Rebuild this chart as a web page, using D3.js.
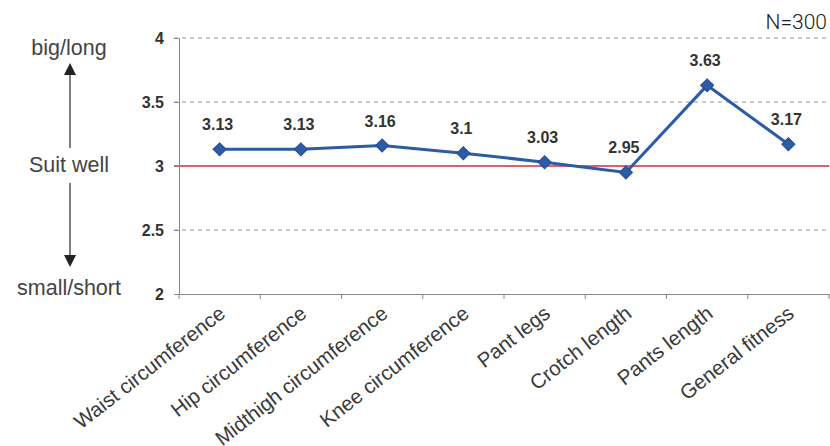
<!DOCTYPE html>
<html><head><meta charset="utf-8">
<script src="https://cdn.jsdelivr.net/npm/d3@7"></script>
<style>body{margin:0;background:#fff}svg{display:block}</style>
</head><body>
<svg id="c" width="830" height="446"></svg>
<script>
const categories = ["Waist circumference","Hip circumference","Midthigh circumference","Knee circumference","Pant legs","Crotch length","Pants length","General fitness"];
const values = [3.13,3.13,3.16,3.1,3.03,2.95,3.63,3.17];
const valueLabels = ["3.13","3.13","3.16","3.1","3.03","2.95","3.63","3.17"];
const yTicks = [2,2.5,3,3.5,4];
const yTickLabels = ["2","2.5","3","3.5","4"];

(function(){
const svg = d3.select("#c");
const mLeft = 179, mRight = 829, mTop = 38, mBottom = 294;
const x = d3.scaleBand().domain(categories).range([mLeft, mRight]);
const y = d3.scaleLinear().domain([2,4]).range([mBottom, mTop]);
const font = "'Liberation Sans', Arial, sans-serif";

// grid
yTicks.forEach(t => {
  if (t === 2) return;
  svg.append("line").attr("x1", mLeft - 5).attr("x2", mRight)
    .attr("y1", y(t)).attr("y2", y(t))
    .attr("stroke", t === 3 ? "#d8283c" : "#999")
    .attr("stroke-width", t === 3 ? 1.3 : 1)
    .attr("stroke-dasharray", t === 3 ? null : "4,4");
});

// y axis
const ya = svg.append("g").attr("transform", `translate(${mLeft},0)`)
  .call(d3.axisLeft(y).tickValues(yTicks).tickFormat((d,i) => yTickLabels[i]).tickSize(5).tickPadding(10));
ya.select(".domain").attr("stroke", "#888");
ya.selectAll(".tick line").attr("stroke", "#888");
ya.selectAll("text").attr("font-family", font).attr("font-size", 16).attr("font-weight", "bold").attr("fill", "#333");

// x axis
const xa = svg.append("g").attr("transform", `translate(0,${mBottom})`)
  .call(d3.axisBottom(x).tickSize(0).tickFormat(""));
xa.select(".domain").attr("stroke", "#888");
const xtv = categories.map(c => x(c)).concat([mRight]);
xa.selectAll(".xt").data(xtv).enter().append("line")
  .attr("x1", d => d).attr("x2", d => d).attr("y1", 0).attr("y2", 5).attr("stroke", "#888");
xa.selectAll(".xl").data(categories).enter().append("text")
  .attr("transform", d => `translate(${x(d) + x.bandwidth()/2 + 7},${22}) rotate(-38)`)
  .attr("text-anchor", "end").attr("font-family", font).attr("font-size", 20.5)
  .attr("fill", "#3a3a3a").text(d => d);

// line
const cx = d => x(d) + x.bandwidth()/2;
const line = d3.line().x((d,i) => cx(categories[i])).y(d => y(d));
svg.append("path").datum(values).attr("d", line).attr("fill", "none")
  .attr("stroke", "#2c5ca6").attr("stroke-width", 3);
svg.selectAll(".m").data(values).enter().append("path")
  .attr("d", d3.symbol().type(d3.symbolSquare).size(85))
  .attr("transform", (d,i) => `translate(${cx(categories[i])},${y(d)}) rotate(45)`)
  .attr("fill", "#2c5ca6").attr("stroke", "#234d8f").attr("stroke-width", 1);
svg.selectAll(".vl").data(values).enter().append("text")
  .attr("x", (d,i) => cx(categories[i]) - 2).attr("y", d => y(d) - 19)
  .attr("text-anchor", "middle").attr("font-family", font).attr("font-size", 16)
  .attr("font-weight", "bold").attr("fill", "#333").text((d,i) => valueLabels[i]);

// left annotation
const ann = svg.append("g").attr("font-family", font).attr("font-size", 21.5).attr("fill", "#444").attr("text-anchor", "middle");
ann.append("text").attr("x", 69).attr("y", 55).text("big/long");
ann.append("text").attr("x", 69).attr("y", 172).text("Suit well");
ann.append("text").attr("x", 69).attr("y", 295).text("small/short");
ann.append("line").attr("x1", 70).attr("x2", 70).attr("y1", 148).attr("y2", 72).attr("stroke", "#555").attr("stroke-width", 1.5);
ann.append("path").attr("d", "M64,75 L76,75 L70,63 Z").attr("fill", "#222");
ann.append("line").attr("x1", 70).attr("x2", 70).attr("y1", 183).attr("y2", 258).attr("stroke", "#555").attr("stroke-width", 1.5);
ann.append("path").attr("d", "M64,255 L76,255 L70,267 Z").attr("fill", "#222");

svg.append("text").attr("x", 827).attr("y", 29).attr("text-anchor", "end")
  .attr("font-family", "Roboto, 'Open Sans', sans-serif").attr("font-weight", 300).attr("font-size", 21).attr("fill", "#222").text("N=300");
})();
</script>
</body></html>
